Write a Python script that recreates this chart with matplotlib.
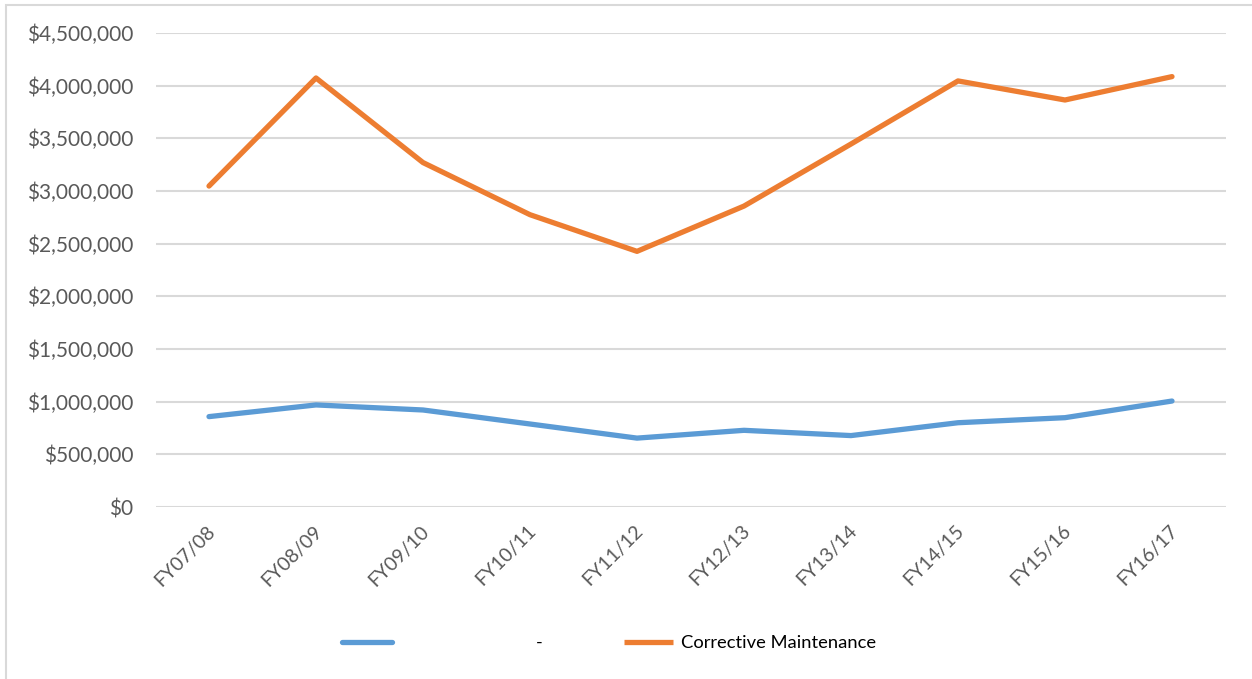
import matplotlib
matplotlib.use("Agg")
import matplotlib.pyplot as plt
import matplotlib.transforms as mtransforms
from matplotlib.lines import Line2D
from matplotlib.patches import Rectangle
from matplotlib.ticker import FuncFormatter, MultipleLocator

plt.rcParams['font.family'] = ['Lato', 'DejaVu Sans']

years = ["FY07/08", "FY08/09", "FY09/10", "FY10/11", "FY11/12",
         "FY12/13", "FY13/14", "FY14/15", "FY15/16", "FY16/17"]
preventive = [858000, 969000, 921000, 788000, 654000,
              728000, 678000, 800000, 848000, 1006000]
corrective = [3047000, 4073000, 3270000, 2775000, 2427000,
              2857000, 3446000, 4045000, 3864000, 4086000]

blue = "#5b9bd5"
orange = "#ed7d31"
grid_c = "#d9d9d9"
text_c = "#595959"

W, H = 1252, 679
fig = plt.figure(figsize=(W / 100, H / 100), dpi=100)
ax = fig.add_axes([155.5 / W, 172 / H, 1070 / W, 474 / H])

x = range(len(years))
ax.plot(x, preventive, color=blue, lw=3.8, solid_capstyle='round', solid_joinstyle='round', zorder=3)
ax.plot(x, corrective, color=orange, lw=3.8, solid_capstyle='round', solid_joinstyle='round', zorder=3)

ax.set_xlim(-0.5, len(years) - 0.5)
ax.set_ylim(0, 4500000)
ax.yaxis.set_major_locator(MultipleLocator(500000))
ax.yaxis.set_major_formatter(FuncFormatter(lambda v, p: f"${v:,.0f}"))
ax.grid(axis='y', color=grid_c, lw=1.5)
ax.set_axisbelow(True)
for s in ax.spines.values():
    s.set_visible(False)
ax.tick_params(axis='both', length=0, labelcolor=text_c)
ax.tick_params(axis='y', pad=16, labelsize=15)
ax.set_xticks(list(x))
ax.set_xticklabels(years, rotation=45, ha='right', va='top', rotation_mode='anchor', fontsize=14)
ax.tick_params(axis='x', pad=11)
shift = mtransforms.ScaledTranslation(-3 / 100, 0, fig.dpi_scale_trans)
for lab in ax.get_xticklabels():
    lab.set_transform(lab.get_transform() + shift)

# chart frame (continues past the right and bottom edges)
fig.patches.append(Rectangle((6 / W, -1), 2, (H - 5) / H + 1, transform=fig.transFigure,
                             fill=False, edgecolor=grid_c, lw=1.5, clip_on=False))

handles = [Line2D([], [], color=blue, lw=3.8, solid_capstyle='round'),
           Line2D([], [], color='none'),
           Line2D([], [], color=orange, lw=3.8, solid_capstyle='butt')]
labels = ["", "-", "Corrective Maintenance"]
fig.legend(handles, labels, loc='center left', bbox_to_anchor=(342 / W, 36 / H),
           ncol=3, frameon=False, borderpad=0, borderaxespad=0,
           handlelength=2.71, handletextpad=0.39, columnspacing=4.4,
           prop={'size': 13.2}, labelcolor='#000000')

fig.savefig("out.png", dpi=100)
